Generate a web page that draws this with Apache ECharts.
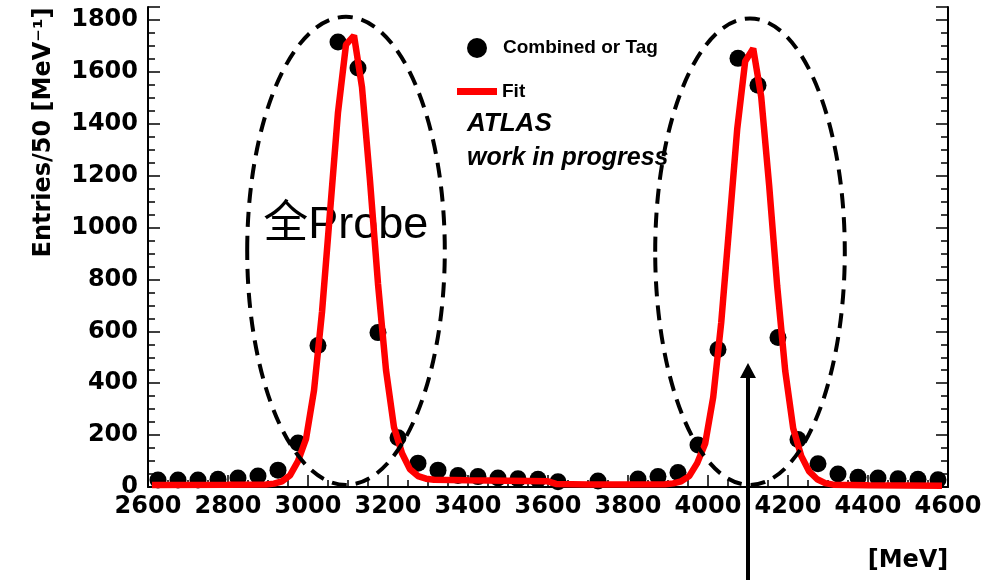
<!DOCTYPE html>
<html>
<head>
<meta charset="utf-8">
<script src="https://cdn.jsdelivr.net/npm/echarts@6/dist/echarts.min.js"></script>
<style>
  html, body { margin: 0; padding: 0; background: #ffffff; }
  #chart { width: 991px; height: 580px; }
</style>
</head>
<body>
<div id="chart"></div>
<script>
// Mass spectrum in 50 MeV bins with its two-peak fit.

// Histogram: bin centres [MeV] and entries (null = empty bin, no marker)
const binCenters = [
  2625, 2675, 2725, 2775, 2825, 2875, 2925, 2975, 3025, 3075,
  3125, 3175, 3225, 3275, 3325, 3375, 3425, 3475, 3525, 3575,
  3625, 3675, 3725, 3775, 3825, 3875, 3925, 3975, 4025, 4075,
  4125, 4175, 4225, 4275, 4325, 4375, 4425, 4475, 4525, 4575
];
const entries = [
  27, 27, 27, 30, 35, 42, 65, 170, 545, 1715,
  1615, 595, 190, 92, 65, 44, 40, 35, 32, 30,
  20, null, 23, null, 31, 40, 56, 162, 530, 1652,
  1548, 576, 183, 90, 50, 38, 35, 32, 30, 28
];

// Fit curve, sampled along the mass axis
const fitMass = [
  2610, 2800, 2895, 2915, 2935, 2955, 2975, 2995, 3015, 3035,
  3055, 3075, 3095, 3115, 3135, 3155, 3175, 3195, 3215, 3235,
  3255, 3275, 3295, 3315, 3400, 3500, 3600, 3620, 3700, 3800,
  3893, 3913, 3933, 3953, 3973, 3993, 4013, 4033, 4053, 4073,
  4093, 4113, 4133, 4153, 4173, 4193, 4213, 4233, 4253, 4273,
  4293, 4313, 4400, 4585
];
const fitValue = [
  8, 9, 10, 13, 22, 45, 100, 185, 372, 674,
  1059, 1444, 1705, 1740, 1541, 1180, 783, 451, 230, 130,
  68, 42, 32, 28, 26, 24, 22, 12, 10, 10,
  11, 14, 22, 42, 92, 168, 346, 633, 1004, 1379,
  1641, 1690, 1504, 1160, 774, 448, 226, 120, 60, 30,
  15, 9, 7, 5
];

// Axis ranges and tick spacing
const massMin = 2600, massMax = 4600, massStep = 200;
const entriesMin = 0, entriesMax = 1850, entriesStep = 200;

// Annotation regions around the two peaks, in data units
const probeRegions = [
  { x0: 2848, x1: 3342, y0: 8, y1: 1812 },
  { x0: 3868, x1: 4342, y0: 8, y1: 1806 }
];
const arrowMass = 4100, arrowTipValue = 478;
const probeLabelAt = [2888, 1008];

const histData = binCenters
  .map((m, i) => [m, entries[i]])
  .filter(p => p[1] !== null);
const fitData = fitMass.map((m, i) => [m, fitValue[i]]);

const tickFont = { fontFamily: 'DejaVu Sans', fontWeight: 'bold', fontSize: 24, color: '#000' };
const legendFont = { fontFamily: 'Liberation Sans', fontWeight: 'bold', fontSize: 19, color: '#000' };

const chart = echarts.init(document.getElementById('chart'), null, { renderer: 'canvas' });

function valueAxisCommon() {
  return {
    axisLine: { show: true, lineStyle: { color: '#000', width: 2 } },
    axisTick: { show: true, inside: true, length: 12, lineStyle: { color: '#000', width: 1.5 } },
    minorTick: { show: true, splitNumber: 4, length: 7, lineStyle: { color: '#000', width: 1.5 } },
    splitLine: { show: false },
    minorSplitLine: { show: false }
  };
}

const option = {
  animation: false,
  backgroundColor: '#ffffff',
  grid: { left: 148, right: 43, top: 7, bottom: 93, containLabel: false },
  legend: [
    {
      data: ['Combined or Tag'],
      selectedMode: false,
      left: 467, top: 38, padding: 0,
      icon: 'circle', itemWidth: 20, itemHeight: 20,
      textStyle: Object.assign({}, legendFont, { padding: [0, 0, 0, 11] })
    },
    {
      data: ['Fit'],
      selectedMode: false,
      left: 457, top: 82, padding: 0,
      icon: 'rect', itemWidth: 40, itemHeight: 7,
      textStyle: legendFont
    }
  ],
  xAxis: Object.assign(valueAxisCommon(), {
    type: 'value',
    min: massMin, max: massMax, interval: massStep,
    name: '[MeV]',
    nameLocation: 'middle',
    nameGap: 62,
    nameTextStyle: Object.assign({}, tickFont, { padding: [0, 0, 0, 720] }),
    axisLabel: Object.assign({}, tickFont, { margin: 8, formatter: v => String(v) })
  }),
  yAxis: [
    Object.assign(valueAxisCommon(), {
      type: 'value',
      position: 'left',
      min: entriesMin, max: entriesMax, interval: entriesStep,
      name: 'Entries/50 [MeV\u207B\u00B9]',
      nameLocation: 'middle',
      nameRotate: 90,
      nameGap: 92,
      nameTextStyle: Object.assign({}, tickFont, { padding: [0, 0, 0, 229] }),
      axisLabel: Object.assign({}, tickFont, { margin: 10, padding: [13, 0, 0, 0], showMaxLabel: false, formatter: v => String(v) })
    }),
    Object.assign(valueAxisCommon(), {
      type: 'value',
      position: 'right',
      min: entriesMin, max: entriesMax, interval: entriesStep,
      axisLabel: { show: false }
    })
  ],
  series: [
    {
      name: 'Combined or Tag',
      type: 'scatter',
      data: histData,
      symbol: 'circle',
      symbolSize: 17,
      itemStyle: { color: '#000000', opacity: 1 },
      z: 2
    },
    {
      name: 'Fit',
      type: 'line',
      data: fitData,
      showSymbol: false,
      symbol: 'none',
      smooth: false,
      lineStyle: { color: '#ff0000', width: 6.5 },
      itemStyle: { color: '#ff0000' },
      z: 3
    }
  ]
};

chart.setOption(option);

// Annotations placed from data coordinates
function px(pt) { return chart.convertToPixel({ gridIndex: 0 }, pt); }

const graphics = [];
probeRegions.forEach(r => {
  const a = px([r.x0, r.y0]);
  const b = px([r.x1, r.y1]);
  graphics.push({
    type: 'ellipse',
    z: 10,
    shape: { cx: (a[0] + b[0]) / 2, cy: (a[1] + b[1]) / 2, rx: Math.abs(b[0] - a[0]) / 2, ry: Math.abs(b[1] - a[1]) / 2 },
    style: { fill: 'none', stroke: '#000', lineWidth: 4, lineDash: [15, 9] }
  });
});

const tip = px([arrowMass, arrowTipValue]);
graphics.push({
  type: 'line', z: 10,
  shape: { x1: tip[0], y1: chart.getHeight(), x2: tip[0], y2: tip[1] + 8 },
  style: { stroke: '#000', lineWidth: 4 }
});
graphics.push({
  type: 'polygon', z: 10,
  shape: { points: [[tip[0], tip[1]], [tip[0] - 8, tip[1] + 15], [tip[0] + 8, tip[1] + 15]] },
  style: { fill: '#000' }
});

const lp = px(probeLabelAt);
graphics.push({
  type: 'text', z: 1,
  x: lp[0], y: lp[1],
  style: {
    text: '全Probe',
    font: '45px "Liberation Sans", "Noto Sans CJK SC", sans-serif',
    fill: '#000', align: 'left', verticalAlign: 'middle'
  }
});
graphics.push({
  type: 'text', z: 1,
  x: 467, y: 124,
  style: {
    text: 'ATLAS',
    font: 'italic bold 26px "Liberation Sans", sans-serif',
    fill: '#000', align: 'left', verticalAlign: 'middle'
  }
});
graphics.push({
  type: 'text', z: 1,
  x: 467, y: 158,
  style: {
    text: 'work in progress',
    font: 'italic bold 25px "Liberation Sans", sans-serif',
    fill: '#000', align: 'left', verticalAlign: 'middle'
  }
});

chart.setOption({ graphic: { elements: graphics } });
</script>
</body>
</html>
